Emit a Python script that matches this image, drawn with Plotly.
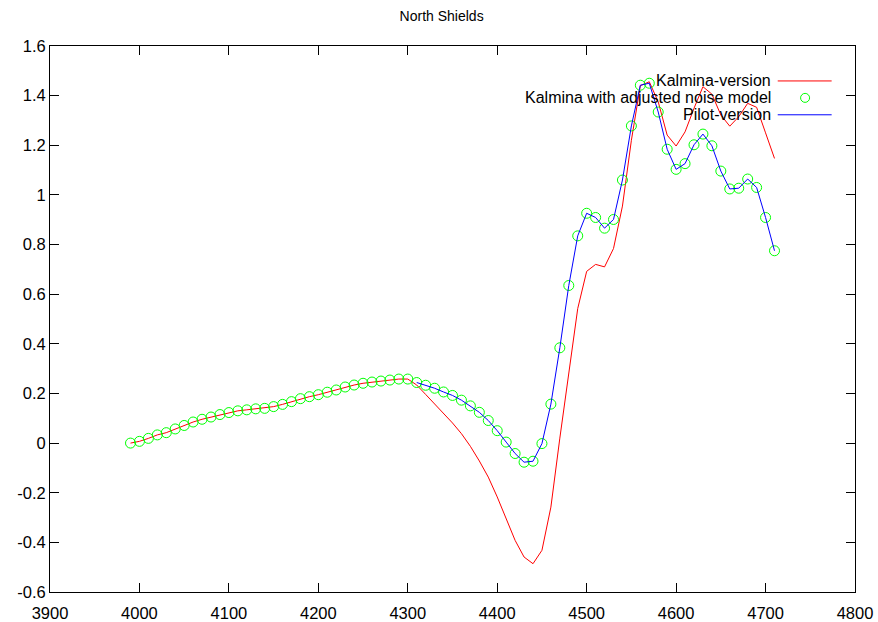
import plotly.graph_objects as go

# ---------------- data ----------------
x_adj = list(range(3990, 4711, 10))
y_adj = [0.0, 0.007, 0.019, 0.033, 0.042, 0.057, 0.071, 0.085, 0.096, 0.105,
         0.115, 0.123, 0.130, 0.134, 0.138, 0.140, 0.147, 0.156, 0.167, 0.179,
         0.187, 0.195, 0.205, 0.214, 0.226, 0.234, 0.241, 0.246, 0.250, 0.254,
         0.258, 0.258,
         0.244, 0.233, 0.221, 0.206, 0.192, 0.173, 0.150, 0.124, 0.091, 0.050,
         0.004, -0.042, -0.077, -0.073, -0.002, 0.157, 0.384, 0.635, 0.835,
         0.926, 0.909, 0.866, 0.901, 1.060, 1.278, 1.442, 1.450, 1.334, 1.184,
         1.103, 1.126, 1.202, 1.245, 1.198, 1.096, 1.024, 1.027, 1.064, 1.030,
         0.909, 0.775]

x_kal = list(range(3990, 4711, 10))
y_kal = y_adj[:32] + [0.234, 0.196, 0.159, 0.121, 0.081, 0.038, -0.013, -0.072,
                      -0.137, -0.217, -0.304, -0.392, -0.459, -0.486, -0.432,
                      -0.258, 0.02, 0.29, 0.542, 0.692, 0.72, 0.71, 0.784,
                      0.955, 1.22, 1.44, 1.456, 1.375, 1.241, 1.197, 1.254,
                      1.349, 1.436, 1.406, 1.322, 1.277, 1.315, 1.369, 1.353,
                      1.25, 1.147]

x_pilot = x_adj[32:]
y_pilot = y_adj[32:]

series_names = ["Kalmina-version", "Kalmina with adjusted noise model", "Pilot-version"]
x_ticks = list(range(3900, 4801, 100))
y_tick_vals = [-0.6, -0.4, -0.2, 0, 0.2, 0.4, 0.6, 0.8, 1, 1.2, 1.4, 1.6]
y_tick_text = ["-0.6", "-0.4", "-0.2", "0", "0.2", "0.4", "0.6", "0.8", "1", "1.2", "1.4", "1.6"]

RED = "rgb(255,0,0)"
GREEN = "rgb(0,255,0)"
BLUE = "rgb(0,0,255)"
FONT = "Liberation Sans, Arial, sans-serif"

fig = go.Figure()
fig.add_trace(go.Scatter(x=x_kal, y=y_kal, mode="lines", name=series_names[0],
                         line=dict(color=RED, width=1), showlegend=False))
fig.add_trace(go.Scatter(x=x_adj, y=y_adj, mode="markers", name=series_names[1],
                         marker=dict(symbol="circle-open", size=10, color=GREEN,
                                     line=dict(width=1, color=GREEN)),
                         showlegend=False))
fig.add_trace(go.Scatter(x=x_pilot, y=y_pilot, mode="lines", name=series_names[2],
                         line=dict(color=BLUE, width=1), showlegend=False))

# gnuplot-style key: text right-aligned, sample on the right
key_y = [0.936, 0.905, 0.874]
colors = [RED, GREEN, BLUE]
annotations = []
shapes = []
for i, name in enumerate(series_names):
    annotations.append(dict(text=name, xref="paper", yref="paper", x=0.897, y=key_y[i],
                            xanchor="right", yanchor="middle", showarrow=False,
                            borderpad=0,
                            font=dict(family=FONT, size=16, color="black")))
    if i == 1:
        shapes.append(dict(type="circle", xref="paper", yref="paper",
                           xsizemode="pixel", ysizemode="pixel",
                           xanchor=0.938, yanchor=key_y[i],
                           x0=-4.5, x1=4.5, y0=-4.5, y1=4.5,
                           line=dict(color=GREEN, width=1)))
    else:
        shapes.append(dict(type="line", xref="paper", yref="paper",
                           x0=0.904, x1=0.971, y0=key_y[i], y1=key_y[i],
                           line=dict(color=colors[i], width=1)))

axis_common = dict(showline=True, linecolor="black", linewidth=1, mirror="ticks",
                   ticks="inside", ticklen=9, tickcolor="black", tickwidth=1,
                   showgrid=False, zeroline=False, automargin=False,
                   tickfont=dict(family=FONT, size=16.5, color="black"))

fig.update_layout(
    width=878, height=622,
    margin=dict(l=50, r=23, t=46, b=30),
    paper_bgcolor="white", plot_bgcolor="white",
    title=dict(text="North Shields", x=0.503, y=0.974, xanchor="center", yanchor="middle",
               font=dict(family=FONT, size=14, color="black")),
    xaxis=dict(range=[3900, 4800], tickvals=x_ticks, ticktext=[str(v) for v in x_ticks],
               ticklabelstandoff=6, **axis_common),
    yaxis=dict(range=[-0.6, 1.6], tickvals=y_tick_vals, ticktext=y_tick_text,
               **axis_common),
    annotations=annotations, shapes=shapes,
    showlegend=False,
)

fig.write_html("out.html", config={"displayModeBar": False},
               post_script="document.body.style.margin='0';")
